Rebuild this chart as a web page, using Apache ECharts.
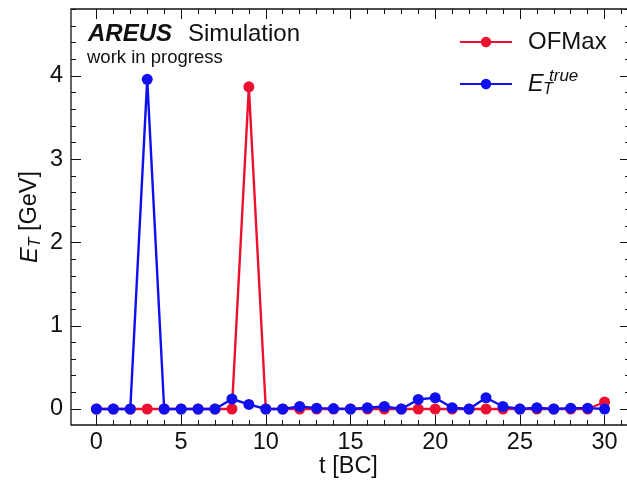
<!DOCTYPE html>
<html>
<head>
<meta charset="utf-8">
<script src="https://cdn.jsdelivr.net/npm/echarts@6/dist/echarts.min.js"></script>
<style>html,body{margin:0;padding:0;background:#fff;}#c{width:627px;height:484px;}</style>
</head>
<body>
<div id="c"></div>
<script>
const t = [0,1,2,3,4,5,6,7,8,9,10,11,12,13,14,15,16,17,18,19,20,21,22,23,24,25,26,27,28,29,30];
const ofmax = [0,0,0,0,0,0,0,0,0,3.87,0,0,0,0,0,0,0,0,0,0,0,0,0,0,0,0,0,0,0,0,0.084];
const etrue = [0,0,0,3.96,0,0,0,0,0.12,0.055,0,0,0.03,0.01,0.005,0,0.015,0.03,0,0.115,0.135,0.015,0,0.135,0.03,0,0.015,0,0.01,0.01,0];
const xTicks = [0,5,10,15,20,25,30];
const yTicks = [0,1,2,3,4];

const FONT = 'Liberation Sans';
const RED = '#ec1030';
const BLUE = '#1010ee';

// layout (pixels)
const L = 71, R = 630, T = 9, B = 425;
const xMin = -1.5, xMax = 31.5;
const ux = (R - L) / (xMax - xMin);
const x0 = L - xMin * ux;
const uy = 83.25;
const y0 = 409;
const yMin = -(B - y0) / uy, yMax = (y0 - T) / uy;

const chart = echarts.init(document.getElementById('c'), null, {renderer: 'canvas'});

const tickCommon = {
  axisLine: {show: false, onZero: false},
  splitLine: {show: false},
  axisTick: {show: true, inside: true, length: 10, lineStyle: {color: '#111', width: 1}},
  minorTick: {show: true, splitNumber: 5, length: 5, lineStyle: {color: '#111', width: 1}},
  minorSplitLine: {show: false}
};
const hidden = {type: 'value', show: false, splitLine: {show: false}, axisLine: {show: false, onZero: false}};

const xLbl = v => (xTicks.indexOf(v) >= 0 ? String(v) : '');
const yLbl = v => (yTicks.indexOf(v) >= 0 ? String(v) : '');

chart.setOption({
  animation: false,
  backgroundColor: '#fff',
  grid: [
    {left: L, top: T, width: R - L, height: B - T, show: true, borderColor: '#111', borderWidth: 1.3, backgroundColor: 'transparent', z: 3, outerBoundsMode: 'none', containLabel: false},
    {left: x0, top: T, width: 35 * ux, height: B - T, outerBoundsMode: 'none', containLabel: false},
    {left: L, top: y0 - 5 * uy, width: R - L, height: 5 * uy, outerBoundsMode: 'none', containLabel: false}
  ],
  xAxis: [
    Object.assign({}, hidden, {gridIndex: 0, min: xMin, max: xMax}),
    Object.assign({type: 'value', gridIndex: 1, position: 'bottom', min: 0, max: 35, interval: 5}, tickCommon,
      {axisLabel: {show: true, margin: 6, fontSize: 23.5, color: '#111', fontFamily: FONT, formatter: xLbl, showMaxLabel: false}}),
    Object.assign({type: 'value', gridIndex: 1, position: 'top', min: 0, max: 35, interval: 5}, tickCommon,
      {axisLabel: {show: false}}),
    Object.assign({}, hidden, {gridIndex: 2, min: xMin, max: xMax})
  ],
  yAxis: [
    Object.assign({}, hidden, {gridIndex: 0, min: yMin, max: yMax}),
    Object.assign({}, hidden, {gridIndex: 1, min: 0, max: 1}),
    Object.assign({type: 'value', gridIndex: 2, position: 'left', min: 0, max: 5, interval: 1}, tickCommon,
      {axisLabel: {show: true, margin: 8, fontSize: 23.5, color: '#111', fontFamily: FONT, formatter: yLbl, showMaxLabel: false, padding: [4, 0, 0, 0]}}),
    Object.assign({type: 'value', gridIndex: 2, position: 'right', min: 0, max: 5, interval: 1}, tickCommon,
      {axisLabel: {show: false}})
  ],
  legend: [
    {
      data: ['OFMax'], orient: 'vertical', left: 454, top: 25,
      itemWidth: 52, itemHeight: 13,
      textStyle: {fontSize: 24, color: '#111', fontFamily: FONT, padding: [0, 0, 0, 11]}
    },
    {
      data: ['Etrue'], orient: 'vertical', left: 454, top: 63,
      itemWidth: 52, itemHeight: 13,
      formatter: () => '{e|E}{s|T}{p|true}',
      textStyle: {
        fontSize: 23, color: '#111', fontFamily: FONT, padding: [0, 0, 0, 11],
        rich: {
          e: {fontSize: 23.5, fontStyle: 'italic', fontFamily: FONT, color: '#111', width: 15},
          s: {fontSize: 16, fontStyle: 'italic', fontFamily: FONT, color: '#111', width: 6, padding: [12, 0, 0, 0]},
          p: {fontSize: 17, fontStyle: 'italic', fontFamily: FONT, color: '#111', padding: [0, 0, 15, 0]}
        }
      }
    }
  ],
  series: [
    {
      name: 'OFMax', type: 'line', xAxisIndex: 0, yAxisIndex: 0,
      data: t.map((v, i) => [v, ofmax[i]]),
      symbol: 'circle', symbolSize: 11, showAllSymbol: true, clip: false,
      lineStyle: {color: RED, width: 2.4}, itemStyle: {color: RED}, z: 2
    },
    {
      name: 'Etrue', type: 'line', xAxisIndex: 0, yAxisIndex: 0,
      data: t.map((v, i) => [v, etrue[i]]),
      symbol: 'circle', symbolSize: 11, showAllSymbol: true, clip: false,
      lineStyle: {color: BLUE, width: 2.4}, itemStyle: {color: BLUE}, z: 3
    }
  ],
  graphic: [
    {type: 'text', left: 88, top: 22, style: {text: 'AREUS', font: 'italic bold 24px "' + FONT + '"', fill: '#111'}},
    {type: 'text', left: 188, top: 22, style: {text: 'Simulation', font: '24px "' + FONT + '"', fill: '#111'}},
    {type: 'text', left: 87, top: 48, style: {text: 'work in progress', font: '18.5px "' + FONT + '"', fill: '#111'}},
    {type: 'text', x: (L + R) / 2 - 2, y: 467, style: {text: 't [BC]', font: '23.5px "' + FONT + '"', fill: '#111', align: 'center', verticalAlign: 'middle'}},
    {type: 'text', x: 30, y: (T + B) / 2, rotation: Math.PI / 2,
      style: {
        text: '{e|E}{s|T}{n| [GeV]}', align: 'center', verticalAlign: 'middle', fill: '#111',
        rich: {
          e: {fontSize: 23.5, fontStyle: 'italic', fontFamily: FONT, fill: '#111'},
          s: {fontSize: 16, fontStyle: 'italic', fontFamily: FONT, fill: '#111', padding: [12, 0, 0, 0]},
          n: {fontSize: 23.5, fontFamily: FONT, fill: '#111'}
        }
      }
    }
  ]
});
</script>
</body>
</html>
